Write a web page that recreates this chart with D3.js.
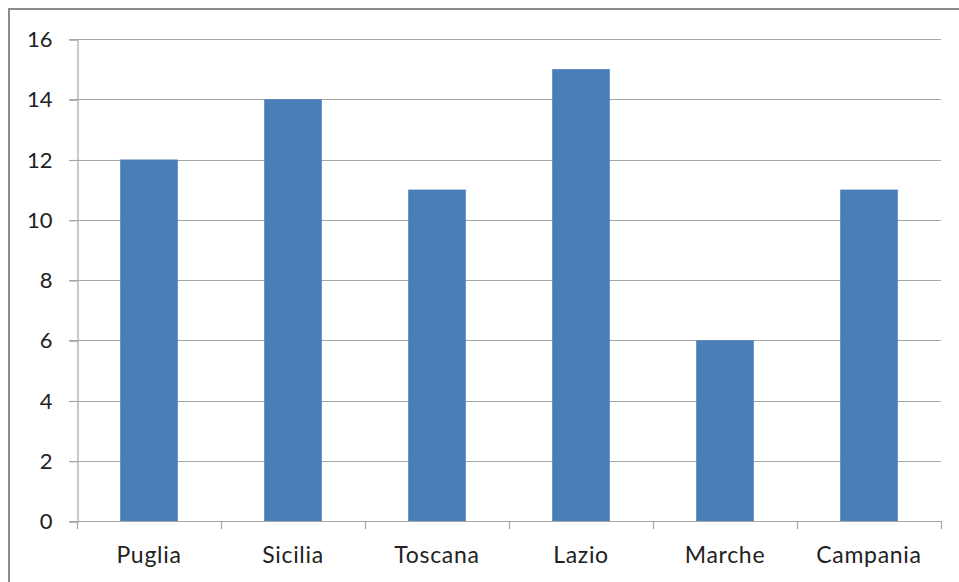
<!DOCTYPE html>
<html>
<head>
<meta charset="utf-8">
<script src="https://cdn.jsdelivr.net/npm/d3@7"></script>
<style>
  html, body { margin: 0; padding: 0; background: #fff; }
  svg { display: block; }
  text { font-family: Lato, "Open Sans", sans-serif; fill: #222; }
</style>
</head>
<body>
<svg id="chart" width="959" height="582"></svg>
<script>
// Regions and their values
const categories = ["Puglia", "Sicilia", "Toscana", "Lazio", "Marche", "Campania"];
const values = [12, 14, 11, 15, 6, 11];
const yTicks = [0, 2, 4, 6, 8, 10, 12, 14, 16];

const svg = d3.select("#chart");
const W = 959, H = 582;
const plot = { left: 77, right: 941, top: 39, bottom: 521 };

// Outer chart frame (runs off the right and bottom edges)
svg.append("rect")
  .attr("x", 9).attr("y", 9)
  .attr("width", W + 20).attr("height", H + 20)
  .attr("fill", "#fff")
  .attr("stroke", "#8c8c8c")
  .attr("stroke-width", 2);

const x = d3.scaleBand()
  .domain(categories)
  .range([plot.left, plot.right])
  .paddingInner(0.6)
  .paddingOuter(0.3);

const y = d3.scaleLinear()
  .domain([0, 16])
  .range([plot.bottom, plot.top]);

// Horizontal gridlines
svg.append("g")
  .selectAll("line")
  .data(yTicks.filter(d => d > 0))
  .join("line")
  .attr("x1", plot.left - 8)
  .attr("x2", plot.right)
  .attr("y1", d => Math.round(y(d)) + 0.5)
  .attr("y2", d => Math.round(y(d)) + 0.5)
  .attr("stroke", "#a6a6a6")
  .attr("stroke-width", 1.2);

// Bars
svg.append("g")
  .selectAll("rect")
  .data(values)
  .join("rect")
  .attr("x", (d, i) => x(categories[i]))
  .attr("width", x.bandwidth())
  .attr("y", d => y(d))
  .attr("height", d => y(0) - y(d))
  .attr("fill", "#4a7ebb");

// Y axis
const yAxis = d3.axisLeft(y)
  .tickValues(yTicks)
  .tickSize(8)
  .tickPadding(17)
  .tickFormat(d3.format("d"));

const gy = svg.append("g")
  .attr("transform", `translate(${plot.left + 0.5},0.5)`)
  .call(yAxis);
gy.select(".domain").attr("stroke", "#a6a6a6").attr("stroke-width", 1.2);
gy.selectAll(".tick line").attr("stroke", "#a6a6a6").attr("stroke-width", 1.2);
gy.selectAll(".tick text")
  .attr("font-size", 22)
  .attr("fill", "#222")
  .style("font-family", "Lato, 'Open Sans', sans-serif");

// X axis: ticks sit on category boundaries
const bounds = d3.range(categories.length + 1)
  .map(i => plot.left + i * (plot.right - plot.left) / categories.length);

const gx = svg.append("g");
gx.append("line")
  .attr("x1", plot.left - 8).attr("x2", plot.right)
  .attr("y1", plot.bottom + 0.5).attr("y2", plot.bottom + 0.5)
  .attr("stroke", "#a6a6a6").attr("stroke-width", 1.2);
gx.selectAll("line.tk")
  .data(bounds)
  .join("line")
  .attr("class", "tk")
  .attr("x1", d => Math.round(d) + 0.5).attr("x2", d => Math.round(d) + 0.5)
  .attr("y1", plot.bottom).attr("y2", plot.bottom + 8)
  .attr("stroke", "#a6a6a6").attr("stroke-width", 1.2);
gx.selectAll("text")
  .data(categories)
  .join("text")
  .attr("x", d => x(d) + x.bandwidth() / 2)
  .attr("y", 563)
  .attr("text-anchor", "middle")
  .attr("font-size", 23)
  .attr("letter-spacing", 0.7)
  .text(d => d);
</script>
</body>
</html>
